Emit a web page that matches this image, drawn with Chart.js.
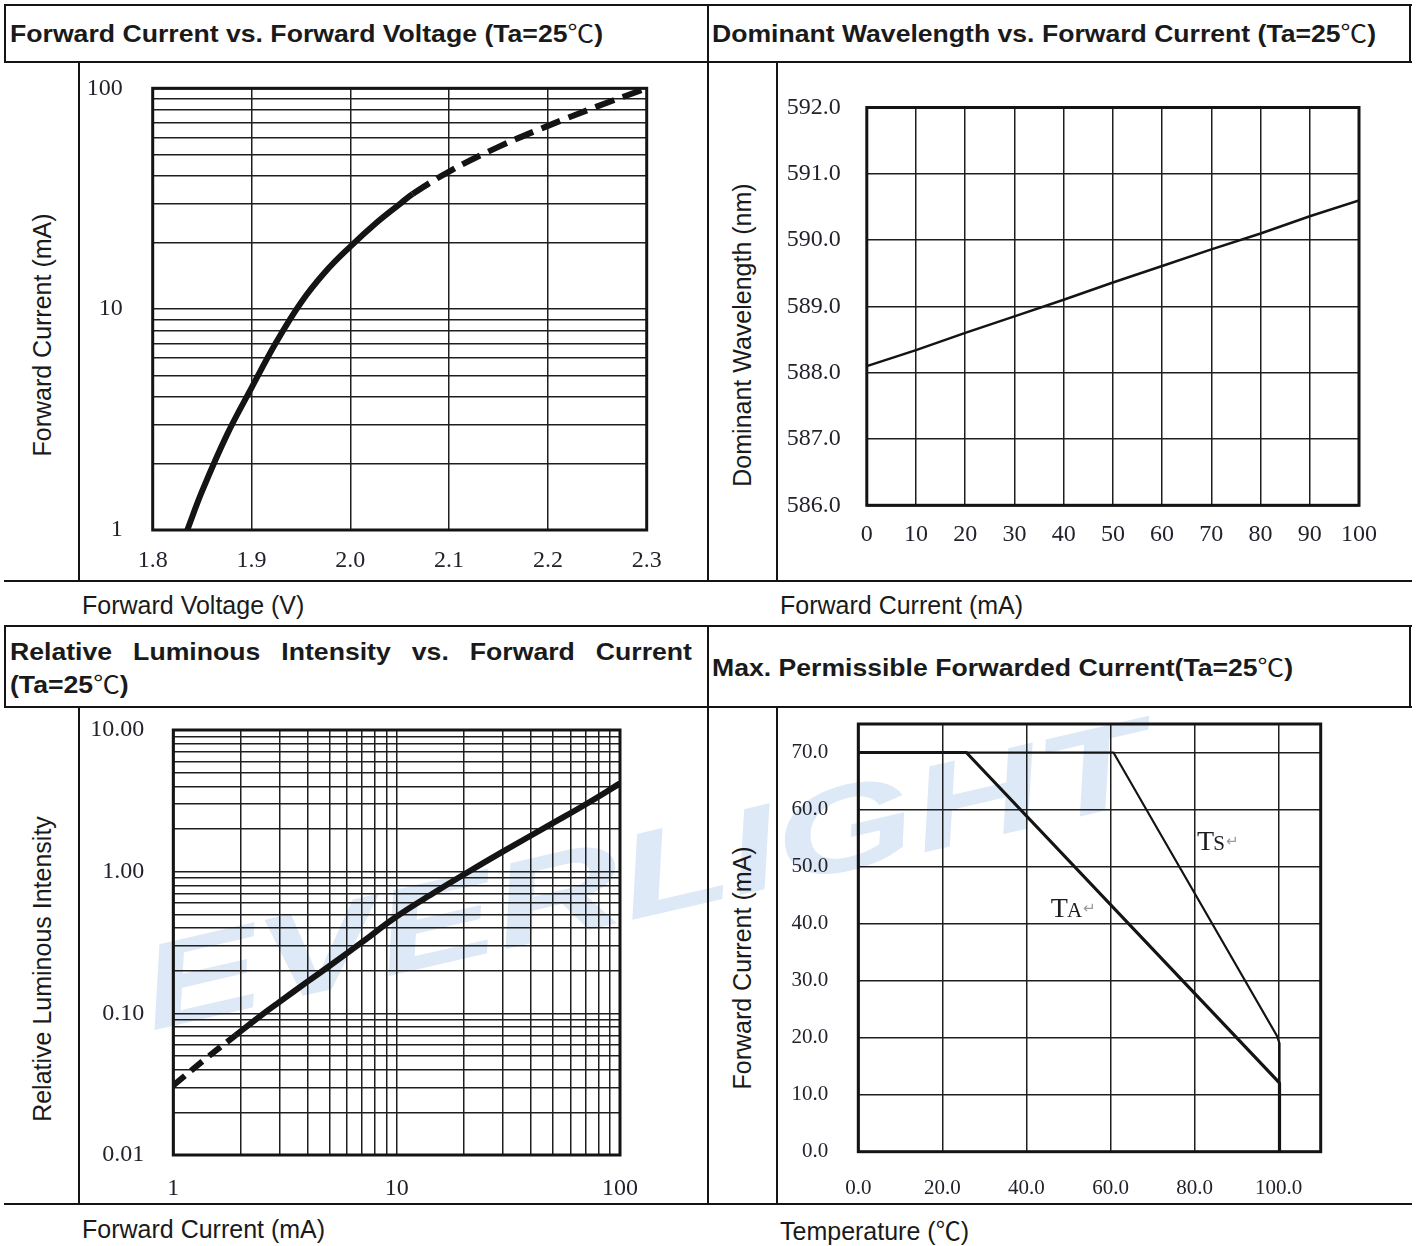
<!DOCTYPE html>
<html>
<head>
<meta charset="utf-8">
<script src="https://cdn.jsdelivr.net/npm/chart.js@4.4.1/dist/chart.umd.min.js"></script>
<style>
  body { margin: 0; background: #fff; }
  #page { position: relative; width: 1416px; height: 1246px; overflow: hidden; font-family: 'Liberation Sans', Arial, sans-serif; color: #1a1a1a; }
  .ln { position: absolute; background: #141414; }
  .ttl { position: absolute; font-weight: bold; font-size: 24px; line-height: 28px; white-space: nowrap; transform-origin: 0 50%; transform: translateY(-50%); }
  .deg { font-family: 'Noto Sans CJK SC', sans-serif; font-weight: normal; }
  .xt { position: absolute; font-size: 25px; line-height: 30px; white-space: nowrap; }
  .yt { position: absolute; font-size: 25px; line-height: 30px; white-space: nowrap; transform: translate(-50%, -50%) rotate(-90deg); }
  .wm { position: absolute; left: 644px; top: 874px; font: italic bold 120px 'Liberation Sans', sans-serif; color: #dde9f6; white-space: nowrap; transform: translate(-50%, -50%) rotate(-13deg) scaleX(1.5); }
  canvas { position: absolute; }
</style>
</head>
<body>
<div id="page">
  <div class="wm">EVERLIGHT</div>

  <!-- upper table -->
  <div class="ln" style="left:4px;top:4px;width:1408px;height:2px"></div>
  <div class="ln" style="left:4px;top:61px;width:1408px;height:2px"></div>
  <div class="ln" style="left:4px;top:4px;width:2px;height:59px"></div>
  <div class="ln" style="left:1409px;top:4px;width:2px;height:59px"></div>
  <div class="ln" style="left:707px;top:4px;width:2px;height:578px"></div>
  <div class="ln" style="left:78px;top:62px;width:2px;height:520px"></div>
  <div class="ln" style="left:776px;top:62px;width:2px;height:520px"></div>
  <div class="ln" style="left:4px;top:580px;width:1408px;height:2px"></div>

  <!-- lower table -->
  <div class="ln" style="left:4px;top:625px;width:1408px;height:2px"></div>
  <div class="ln" style="left:4px;top:706px;width:1408px;height:2px"></div>
  <div class="ln" style="left:4px;top:625px;width:2px;height:83px"></div>
  <div class="ln" style="left:1409px;top:625px;width:2px;height:83px"></div>
  <div class="ln" style="left:707px;top:625px;width:2px;height:580px"></div>
  <div class="ln" style="left:78px;top:706px;width:2px;height:499px"></div>
  <div class="ln" style="left:776px;top:706px;width:2px;height:499px"></div>
  <div class="ln" style="left:4px;top:1203px;width:1408px;height:2px"></div>

  <div class="ttl" id="t1" style="left:10px;top:33px">Forward Current vs. Forward Voltage (Ta=25<span class="deg">℃</span>)</div>
  <div class="ttl" id="t2" style="left:712px;top:33px">Dominant Wavelength vs. Forward Current (Ta=25<span class="deg">℃</span>)</div>
  <div class="ttl" id="t3a" style="left:10px;top:652px;white-space:normal;text-align:justify;text-align-last:justify">Relative Luminous Intensity vs. Forward Current</div>
  <div class="ttl" id="t3b" style="left:10px;top:684px">(Ta=25<span class="deg">℃</span>)</div>
  <div class="ttl" id="t4" style="left:712px;top:667px">Max. Permissible Forwarded Current(Ta=25<span class="deg">℃</span>)</div>

  <div class="xt" style="left:82px;top:590px">Forward Voltage (V)</div>
  <div class="xt" style="left:780px;top:590px">Forward Current (mA)</div>
  <div class="xt" style="left:82px;top:1214px">Forward Current (mA)</div>
  <div class="xt" style="left:780px;top:1214px">Temperature (<span class="deg">℃</span>)</div>
  <div class="yt" style="left:42px;top:335px">Forward Current (mA)</div>
  <div class="yt" style="left:742px;top:335px">Dominant Wavelength (nm)</div>
  <div class="yt" style="left:42px;top:969px">Relative Luminous Intensity</div>
  <div class="yt" style="left:742px;top:968px">Forward Current (mA)</div>

  <canvas id="c1" width="626" height="515" style="left:80px;top:64px"></canvas>
  <canvas id="c2" width="629" height="515" style="left:779px;top:64px"></canvas>
  <canvas id="c3" width="626" height="493" style="left:80px;top:709px"></canvas>
  <canvas id="c4" width="629" height="493" style="left:779px;top:709px"></canvas>
</div>

<script>
// forward current vs forward voltage
const fvVoltage = [1.835, 1.85, 1.875, 1.9, 1.925, 1.95, 1.975, 2.0, 2.025, 2.05, 2.063, 2.1, 2.15, 2.2, 2.25, 2.3];
const fvCurrent = [1.0, 1.5, 2.69, 4.4, 7.08, 10.7, 14.8, 19.2, 24.3, 29.9, 33.2, 42.0, 54.3, 67.6, 82.8, 100];
const fvDashFrom = 2.063;
const fvXTicks = [1.8, 1.9, 2.0, 2.1, 2.2, 2.3];
const fvYTicks = [1, 2, 3, 4, 5, 6, 7, 8, 9, 10, 20, 30, 40, 50, 60, 70, 80, 90, 100];
const fvYLabels = [1, 10, 100];

// dominant wavelength vs forward current
const dwCurrent = [0, 10, 20, 30, 40, 50, 60, 70, 80, 90, 100];
const dwWavelength = [588.1, 588.34, 588.6, 588.85, 589.1, 589.36, 589.61, 589.86, 590.1, 590.36, 590.6];
const dwXTicks = [0, 10, 20, 30, 40, 50, 60, 70, 80, 90, 100];
const dwYTicks = [586, 587, 588, 589, 590, 591, 592];

// relative luminous intensity vs forward current
const liCurrent = [1, 1.4, 1.9, 2.5, 3, 4, 5, 7, 10, 15, 20, 30, 50, 70, 100];
const liIntensity = [0.031, 0.048, 0.070, 0.098, 0.121, 0.168, 0.216, 0.318, 0.482, 0.724, 0.955, 1.39, 2.2, 2.98, 4.2];
const liDashUntil = 1.9;
const liXTicks = [1, 2, 3, 4, 5, 6, 7, 8, 9, 10, 20, 30, 40, 50, 60, 70, 80, 90, 100];
const liXLabels = [1, 10, 100];
const liYTicks = [0.01, 0.02, 0.03, 0.04, 0.05, 0.06, 0.07, 0.08, 0.09,
                  0.1, 0.2, 0.3, 0.4, 0.5, 0.6, 0.7, 0.8, 0.9,
                  1, 2, 3, 4, 5, 6, 7, 8, 9, 10];
const liYLabels = [0.01, 0.1, 1, 10];

// max permissible forward current vs temperature
const mpTempA = [0, 25.7, 99.9, 100.2, 100.2];
const mpCurrentA = [70, 70, 12.3, 12, 0];
const mpTempS = [0, 60.7, 99.6, 100.2, 100.2];
const mpCurrentS = [70, 70, 20.3, 19, 0];
const mpXTicks = [0, 20, 40, 60, 80, 100];
const mpYTicks = [0, 10, 20, 30, 40, 50, 60, 70];

const pts = (xs, ys) => xs.map((x, i) => ({ x: x, y: ys[i] }));

// thick box round the plot area
const frame = {
  id: 'frame',
  beforeDatasetsDraw(chart) {
    const { ctx, chartArea: a } = chart;
    ctx.save();
    ctx.strokeStyle = '#141414';
    ctx.lineWidth = 3;
    ctx.strokeRect(a.left, a.top, a.right - a.left, a.bottom - a.top);
    ctx.restore();
  }
};

// TA / TS tags in chart 4
const curveTags = {
  id: 'curveTags',
  afterDatasetsDraw(chart, args, opts) {
    const { ctx, scales } = chart;
    (opts.items || []).forEach(t => {
      const px = scales.x.getPixelForValue(t.x);
      const py = scales.y.getPixelForValue(t.y);
      ctx.save();
      ctx.textBaseline = 'alphabetic';
      ctx.fillStyle = '#1b1b22';
      ctx.font = "28px 'Liberation Serif', serif";
      ctx.fillText(t.main, px, py);
      let w = ctx.measureText(t.main).width;
      ctx.font = "21px 'Liberation Serif', serif";
      ctx.fillText(t.sub, px + w - 1, py);
      w += ctx.measureText(t.sub).width;
      ctx.fillStyle = '#9a9a9a';
      ctx.font = "15px 'DejaVu Sans', sans-serif";
      ctx.fillText('\u21B5', px + w, py - 4);
      ctx.restore();
    });
  }
};

function axis(o) {
  return {
    type: o.type || 'linear',
    min: o.min,
    max: o.max,
    afterBuildTicks: s => { s.ticks = o.ticks.map(v => ({ value: v })); },
    afterFit: s => {
      if (o.width) s.width = o.width;
      if (o.height) s.height = o.height;
      // label overflow must not push the plot area about
      s.paddingTop = 0; s.paddingBottom = 0;
      s.paddingLeft = 0; s.paddingRight = 0;
    },
    grid: { color: '#1e1e1e', lineWidth: 1.5, drawTicks: false },
    border: { display: false },
    ticks: {
      autoSkip: false,
      maxRotation: 0,
      padding: o.pad,
      color: '#22222c',
      font: { family: "'Liberation Serif', serif", size: o.size || 24 },
      callback: o.label
    }
  };
}

function makeChart(id, datasets, x, y, padding, extra) {
  return new Chart(document.getElementById(id), {
    type: 'line',
    data: { datasets: datasets },
    options: {
      responsive: false,
      animation: false,
      events: [],
      layout: { padding: padding },
      elements: { point: { radius: 0 } },
      plugins: Object.assign({ legend: { display: false }, tooltip: { enabled: false } }, extra || {}),
      scales: { x: x, y: y }
    },
    plugins: [frame, curveTags]
  });
}

makeChart('c1',
  [{
    data: pts(fvVoltage, fvCurrent),
    borderColor: '#141414',
    borderWidth: 6,
    tension: 0.4,
    segment: { borderDash: c => c.p0.parsed.x >= fvDashFrom - 1e-6 ? [20, 9] : undefined }
  }],
  axis({ min: 1.8, max: 2.3, ticks: fvXTicks, height: 49, pad: 16, label: v => v.toFixed(1) }),
  axis({ type: 'logarithmic', min: 1, max: 100, ticks: fvYTicks, width: 72.7, pad: 30,
         label: v => fvYLabels.includes(v) ? String(v) : '' }),
  { top: 24.3, right: 59.3, left: 0, bottom: 0 });

makeChart('c2',
  [{
    data: pts(dwCurrent, dwWavelength),
    borderColor: '#141414',
    borderWidth: 2.5,
    tension: 0
  }],
  axis({ min: 0, max: 100, ticks: dwXTicks, height: 73.7, pad: 15, label: v => String(v) }),
  axis({ min: 586, max: 592, ticks: dwYTicks, width: 87.8, pad: 26, label: v => v.toFixed(1) }),
  { top: 43.5, right: 49, left: 0, bottom: 0 });

makeChart('c3',
  [{
    data: pts(liCurrent, liIntensity),
    borderColor: '#141414',
    borderWidth: 6,
    tension: 0.4,
    segment: { borderDash: c => c.p0.parsed.x < liDashUntil - 1e-6 ? [15, 8] : undefined }
  }],
  axis({ type: 'logarithmic', min: 1, max: 100, ticks: liXTicks, height: 47, pad: 19.5,
         label: v => liXLabels.includes(v) ? String(v) : '' }),
  axis({ type: 'logarithmic', min: 0.01, max: 10, ticks: liYTicks, width: 93.3, pad: 29,
         label: v => liYLabels.includes(v) ? v.toFixed(2) : '' }),
  { top: 21, right: 86, left: 0, bottom: 0 });

makeChart('c4',
  [{
    data: pts(mpTempA, mpCurrentA),
    borderColor: '#141414',
    borderWidth: 3.2,
    tension: 0
  }, {
    data: pts(mpTempS, mpCurrentS),
    borderColor: '#141414',
    borderWidth: 2.2,
    tension: 0
  }],
  axis({ min: 0, max: 110, ticks: mpXTicks, height: 50.3, pad: 24.6, size: 21, label: v => v.toFixed(1) }),
  axis({ min: 0, max: 75, ticks: mpYTicks, width: 79.3, pad: 30, size: 21, label: v => v.toFixed(1) }),
  { top: 15, right: 87.3, left: 0, bottom: 0 },
  { curveTags: { items: [
    { main: 'T', sub: 'S', x: 80.6, y: 52.9 },
    { main: 'T', sub: 'A', x: 45.8, y: 41.2 }
  ] } });

// the titles in the reference are drawn a little wider than the font
function fitTitle(id, target) {
  const el = document.getElementById(id);
  const k = target / el.getBoundingClientRect().width;
  el.style.transform = 'translateY(-50%) scaleX(' + k + ')';
  return k;
}
const k1 = fitTitle('t1', 593);
fitTitle('t2', 664);
fitTitle('t4', 581);
const t3a = document.getElementById('t3a');
t3a.style.width = (682 / k1) + 'px';
t3a.style.transform = 'translateY(-50%) scaleX(' + k1 + ')';
document.getElementById('t3b').style.transform = 'translateY(-50%) scaleX(' + k1 + ')';
</script>
</body>
</html>
